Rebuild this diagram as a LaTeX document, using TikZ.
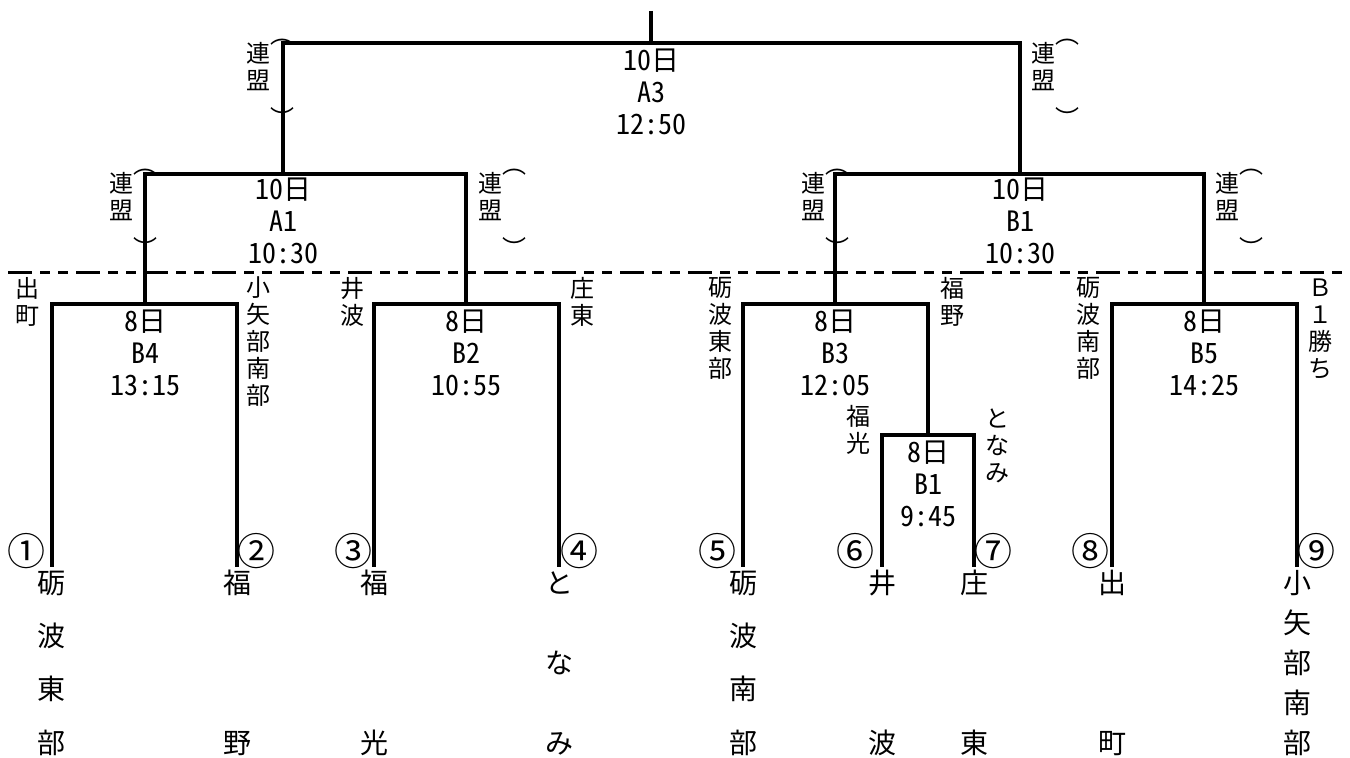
\documentclass[tikz,border=0pt]{standalone}
\usepackage{fontspec}
\setmainfont{Noto Sans CJK JP}
\newfontfamily\halfwidth{Noto Sans CJK JP}[RawFeature=+hwid]
\tikzset{
  match/.style = {font = \halfwidth\fontsize{14}{16}\selectfont},
  side/.style = {font = \fontsize{12}{13.5}\selectfont},
  team/.style = {font = \fontsize{14}{#1}\selectfont},
  seed/.style = {font = \fontsize{19}{19}\selectfont},
  paren/.style = {font = \fontsize{12}{12}\selectfont}
}
\begin{document}
\begin{tikzpicture}[x = 0.5pt, y = -0.5pt, line width = 1.6pt,
  every node/.style = {inner sep = 0pt, align = center}]
  \useasboundingbox (0, 0) rectangle (1350, 758);
  \foreach \x [count = \i] in {52, 237, 374, 559, 743, 882, 974, 1112, 1297}
    \coordinate (e\i) at (\x, 567);
  \coordinate (b4) at (145, 304);
  \coordinate (b2) at (466, 304);
  \coordinate (b3) at (835, 304);
  \coordinate (b5) at (1204, 304);
  \coordinate (b1) at (928, 435);
  \coordinate (a1) at (283, 174);
  \coordinate (r1) at (1020, 174);
  \coordinate (a3) at (651, 43);
  \coordinate (top) at (651, 11);
  \coordinate (dl) at (8, 273);
  \coordinate (dr) at (1345, 273);

  \foreach \l/\m/\r in {e1/b4/e2, e3/b2/e4, e6/b1/e7, e5/b3/b1, e8/b5/e9, b4/a1/b2, b3/r1/b5, a1/a3/r1}
    \draw (\l) -- (\l |- \m) -- (\r |- \m) -- (\r);
  \draw (top) -- (a3);
  \draw [line width = 1.5pt, dash pattern = on 12pt off 4pt on 5pt off 4pt on 5pt off 4pt] (dl) -- (dr);

  \draw (651, 92) node (la3) [match] {10日\\A3\\12:50};
  \draw (283, 221) node (la1) [match] {10日\\A1\\10:30};
  \draw (1020, 221) node (lr1) [match] {10日\\B1\\10:30};
  \draw (145, 353) node (lb4) [match] {8日\\B4\\13:15};
  \draw (466, 353) node (lb2) [match] {8日\\B2\\10:55};
  \draw (835, 353) node (lb3) [match] {8日\\B3\\12:05};
  \draw (1204, 353) node (lb5) [match] {8日\\B5\\14:25};
  \draw (928, 484) node (lb1) [match] {8日\\B1\\9:45};

  \foreach \x/\y [count = \i] in {258/53, 1043/53, 121/183, 490/183, 813/183, 1227/183}
  {
    \draw (\x, \y + 13.5) node (ren\i) [side] {連\\盟};
    \draw (\x + 24, \y - 11) node (po\i) [paren] {︵};
    \draw (\x + 24, \y + 64) node (pc\i) [paren] {︶};
  }

  \draw (28, 301.5) node (s1) [side] {出\\町};
  \draw (258, 342) node (s2) [side] {小\\矢\\部\\南\\部};
  \draw (352, 301.5) node (s3) [side] {井\\波};
  \draw (582, 301.5) node (s4) [side] {庄\\東};
  \draw (720, 328.5) node (s5) [side] {砺\\波\\東\\部};
  \draw (952, 301.5) node (s6) [side] {福\\野};
  \draw (1088, 328.5) node (s7) [side] {砺\\波\\南\\部};
  \draw (1320, 328.5) node (s8) [side] {Ｂ\\１\\勝\\ち};
  \draw (858, 430) node (s9) [side] {福\\光};
  \draw (997, 446) node (s10) [side] {と\\な\\み};

  \foreach \x/\s [count = \i] in {26/①, 256/②, 353/③, 579/④, 717/⑤, 855/⑥, 993/⑦, 1090/⑧, 1316/⑨}
    \draw (\x, 551) node (n\i) [seed] {\s};

  \draw (52, 663) node (t1) [team = 26.67pt] {砺\\波\\東\\部};
  \draw (237, 663) node (t2) [team = 80pt] {福\\野};
  \draw (374, 663) node (t3) [team = 80pt] {福\\光};
  \draw (559, 663) node (t4) [team = 40pt] {と\\な\\み};
  \draw (743, 663) node (t5) [team = 26.67pt] {砺\\波\\南\\部};
  \draw (882, 663) node (t6) [team = 80pt] {井\\波};
  \draw (974, 663) node (t7) [team = 80pt] {庄\\東};
  \draw (1112, 663) node (t8) [team = 80pt] {出\\町};
  \draw (1297, 663) node (t9) [team = 20pt] {小\\矢\\部\\南\\部};
\end{tikzpicture}
\end{document}
